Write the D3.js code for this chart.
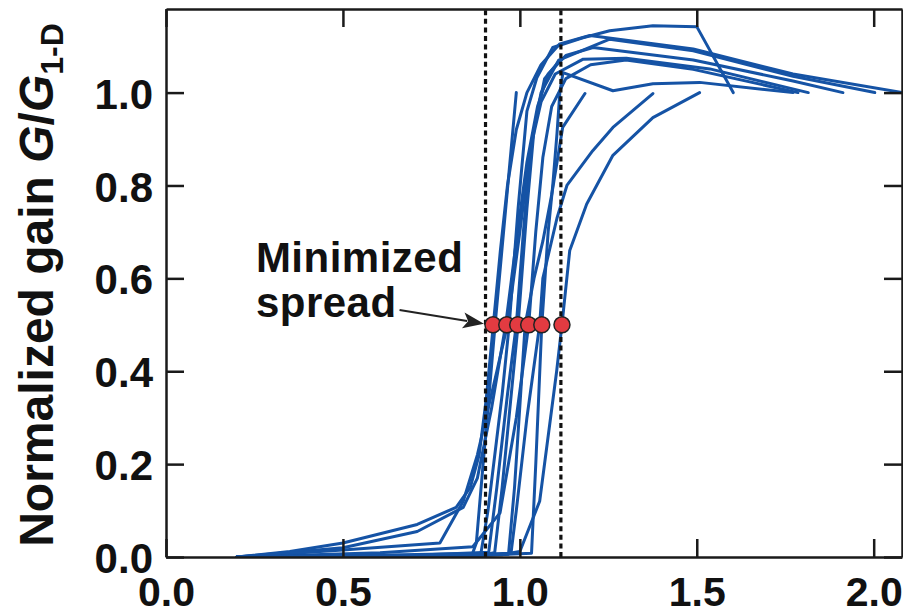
<!DOCTYPE html>
<html>
<head>
<meta charset="utf-8">
<script src="https://cdn.jsdelivr.net/npm/d3@7"></script>
<style>
  html, body { margin: 0; padding: 0; background: #fff; overflow: hidden; }
  text { font-family: "Liberation Sans", Arial, Helvetica, sans-serif; font-weight: bold; fill: #111; }
</style>
</head>
<body>
<svg id="chart" width="903" height="616"></svg>
<script>
// Axis ticks
const xTicks = [0, 0.5, 1.0, 1.5, 2.0];
const yTicks = [0, 0.2, 0.4, 0.6, 0.8, 1.0];

// Bounds of the minimized spread (dotted verticals)
const boundaryX = [0.903, 1.116];

// Half-gain crossing points of the spread
const midpointX = [0.924, 0.963, 0.994, 1.025, 1.062, 1.119];
const midpointY = 0.5;

// Normalized gain curves, [x, G/G1-D]
const run01 = [[0.2,0],[0.6,0.003],[0.865,0.005],[0.877,0.03],[0.93,0.5],[0.99,1.0]];
const run02 = [[0.2,0],[0.35,0.012],[0.5,0.03],[0.71,0.07],[0.82,0.107],[0.86,0.15],[0.885,0.22],[0.905,0.34],[0.925,0.5],[0.945,0.66],[0.965,0.8],[0.99,0.92],[1.02,1.0],[1.06,1.06],[1.113,1.105],[1.198,1.123],[1.49,1.094],[1.772,1.04],[2.083,1.0]];
const run03 = [[0.2,0],[0.5,0.02],[0.71,0.055],[0.84,0.107],[0.88,0.17],[0.92,0.32],[0.96,0.5],[0.99,0.68],[1.02,0.85],[1.05,0.97],[1.08,1.04],[1.13,1.08],[1.207,1.097],[1.49,1.07],[1.772,1.025],[1.913,1.0]];
const run04 = [[0.2,0],[0.5,0.015],[0.774,0.03],[0.84,0.12],[0.88,0.22],[0.935,0.4],[0.965,0.5],[1.0,0.7],[1.03,0.88],[1.06,0.98],[1.1,1.04],[1.179,1.072],[1.301,1.074],[1.537,1.051],[1.815,1.0]];
const run05 = [[0.2,0],[0.605,0.009],[0.867,0.022],[0.944,0.095],[0.99,0.3],[1.025,0.5],[1.045,0.7],[1.065,0.86],[1.09,0.97],[1.13,1.03],[1.2,1.06],[1.3,1.07],[1.49,1.05],[1.786,1.0]];
const run06 = [[0.2,0],[0.6,0.004],[0.89,0.008],[0.91,0.1],[0.95,0.35],[0.97,0.5],[0.995,0.75],[1.02,0.96],[1.048,1.032],[1.093,1.097],[1.178,1.118],[1.254,1.133],[1.376,1.144],[1.5,1.142],[1.603,1.0]];
const run07 = [[0.2,0],[0.7,0.004],[0.912,0.01],[0.935,0.15],[0.965,0.35],[0.99,0.5],[1.01,0.7],[1.03,0.88],[1.06,1.0],[1.11,1.07],[1.254,1.115],[1.49,1.09],[1.772,1.035],[2.003,1.0]];
const run08 = [[0.2,0],[0.8,0.004],[0.975,0.008],[0.99,0.1],[1.02,0.3],[1.056,0.5],[1.065,0.6],[1.105,0.73],[1.133,0.8],[1.206,0.875],[1.263,0.925],[1.376,0.998]];
const run09 = [[0.2,0],[0.8,0.003],[0.968,0.006],[0.985,0.15],[1.015,0.5],[1.04,0.6],[1.065,0.68],[1.09,0.78],[1.105,0.85],[1.121,0.925],[1.184,0.998]];
const run10 = [[0.2,0],[0.95,0.005],[1.0,0.012],[1.056,0.12],[1.104,0.4],[1.119,0.5],[1.141,0.66],[1.189,0.76],[1.263,0.865],[1.376,0.946],[1.508,1.0]];
const run11 = [[0.2,0],[0.9,0.004],[1.033,0.008],[1.045,0.2],[1.062,0.5],[1.08,0.7],[1.093,0.8],[1.105,0.912],[1.113,1.0],[1.122,1.043],[1.263,1.004],[1.376,1.019],[1.508,1.022],[1.772,1.0]];
const run12 = [[0.2,0],[0.9,0.004],[0.929,0.01],[0.95,0.15],[0.995,0.5],[1.02,0.75],[1.04,0.92],[1.07,1.03],[1.113,1.07]];

const runs = [run01, run02, run03, run04, run05, run06, run07, run08, run09, run10, run11, run12];

const svg = d3.select("#chart");
const plotLeft = 166, plotRight = 902, plotTop = 9, plotBottom = 557;

const x = d3.scaleLinear().domain([0, 2.08]).range([plotLeft, plotRight]);
const y = d3.scaleLinear().domain([0, 1.18]).range([plotBottom, plotTop]);

svg.append("defs").append("clipPath").attr("id", "plot")
  .append("rect").attr("x", plotLeft).attr("y", plotTop)
  .attr("width", plotRight - plotLeft).attr("height", plotBottom - plotTop);

const plot = svg.append("g").attr("clip-path", "url(#plot)");

// Curves
const line = d3.line().x(d => x(d[0])).y(d => y(d[1]));
plot.selectAll("path.run").data(runs).join("path")
  .attr("class", "run")
  .attr("d", line)
  .attr("fill", "none")
  .attr("stroke", "#1553a5")
  .attr("stroke-width", 3)
  .attr("stroke-linejoin", "round")
  .attr("stroke-linecap", "round");

// Dotted bounds
plot.selectAll("line.bound").data(boundaryX).join("line")
  .attr("class", "bound")
  .attr("x1", d => x(d)).attr("x2", d => x(d))
  .attr("y1", y(0)).attr("y2", plotTop)
  .attr("stroke", "#111")
  .attr("stroke-width", 3.2)
  .attr("stroke-dasharray", "5,3.6");

// Axes: ticks point inward on all four sides
const tickLen = 18;
const styleAxis = (size) => g => {
  g.selectAll("path.domain").attr("stroke", "#1a1a1a").attr("stroke-width", 2.5);
  g.selectAll(".tick line").attr("stroke", "#1a1a1a").attr("stroke-width", 2.5);
  g.selectAll(".tick text").attr("font-size", size).attr("fill", "#111")
    .attr("font-family", "'Liberation Sans', Arial, sans-serif").attr("font-weight", "bold");
};
const fmt = d3.format(".1f");

svg.append("g").attr("transform", `translate(0,${plotBottom})`)
  .call(d3.axisBottom(x).tickValues(xTicks).tickFormat(fmt).tickSizeInner(-tickLen).tickSizeOuter(0).tickPadding(20))
  .call(styleAxis(41));
svg.append("g").attr("transform", `translate(0,${plotTop})`)
  .call(d3.axisTop(x).tickValues(xTicks).tickFormat("").tickSizeInner(-tickLen).tickSizeOuter(0))
  .call(styleAxis(41));
svg.append("g").attr("transform", `translate(${plotLeft},0)`)
  .call(d3.axisLeft(y).tickValues(yTicks).tickFormat(fmt).tickSizeInner(-tickLen).tickSizeOuter(0).tickPadding(13))
  .call(styleAxis(42))
  .call(g => g.selectAll(".tick text").attr("dy", "0.37em"));
svg.append("g").attr("transform", `translate(${plotRight},0)`)
  .call(d3.axisRight(y).tickValues(yTicks).tickFormat("").tickSizeInner(-tickLen).tickSizeOuter(0))
  .call(styleAxis(42));

// Half-gain markers
svg.selectAll("circle.mid").data(midpointX).join("circle")
  .attr("class", "mid")
  .attr("cx", d => x(d)).attr("cy", y(midpointY))
  .attr("r", 8)
  .attr("fill", "#e23b41")
  .attr("stroke", "#222")
  .attr("stroke-width", 1.5);

// Annotation
const note = svg.append("text").attr("font-size", 42).attr("letter-spacing", 0.5);
note.append("tspan").attr("x", x(0.254)).attr("y", y(0.614)).text("Minimized");
note.append("tspan").attr("x", x(0.254)).attr("y", y(0.517)).text("spread");

const tip = [x(midpointX[0]) - 9, y(midpointY) - 1];
const tail = [x(0.66), y(0.532)];
const ang = Math.atan2(tip[1] - tail[1], tip[0] - tail[0]);
const headLen = 21, headHalf = 8;
const back = [tip[0] - headLen * Math.cos(ang), tip[1] - headLen * Math.sin(ang)];
svg.append("line")
  .attr("x1", tail[0]).attr("y1", tail[1])
  .attr("x2", back[0] + 4 * Math.cos(ang)).attr("y2", back[1] + 4 * Math.sin(ang))
  .attr("stroke", "#222").attr("stroke-width", 2);
svg.append("path")
  .attr("d", `M${tip[0]},${tip[1]}` +
    `L${back[0] - headHalf * Math.sin(ang)},${back[1] + headHalf * Math.cos(ang)}` +
    `L${back[0] + 5 * Math.cos(ang)},${back[1] + 5 * Math.sin(ang)}` +
    `L${back[0] + headHalf * Math.sin(ang)},${back[1] - headHalf * Math.cos(ang)}Z`)
  .attr("fill", "#222");

// Y axis title
const ytitle = svg.append("text")
  .attr("transform", `translate(53,${(plotTop + plotBottom) / 2 + 2}) rotate(-90)`)
  .attr("text-anchor", "middle")
  .attr("font-size", 48);
ytitle.append("tspan").text("Normalized gain ");
ytitle.append("tspan").attr("font-style", "italic").text("G");
ytitle.append("tspan").text("/");
ytitle.append("tspan").attr("font-style", "italic").text("G");
ytitle.append("tspan").attr("font-size", 32).attr("dy", 10).text("1-D");
</script>
</body>
</html>
